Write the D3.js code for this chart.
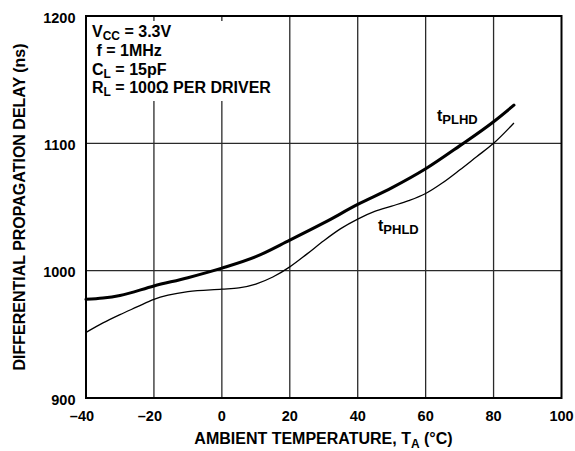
<!DOCTYPE html>
<html>
<head>
<meta charset="utf-8">
<script src="https://cdn.jsdelivr.net/npm/d3@7"></script>
<style>
  html, body { margin: 0; padding: 0; background: #fff; }
  text { font-family: "Liberation Sans", Arial, Helvetica, sans-serif; font-weight: bold; fill: #000; }
</style>
</head>
<body>
<svg id="chart" width="575" height="451"></svg>
<script>
// ---- data ----
const xTicks = [-40, -20, 0, 20, 40, 60, 80, 100];
const yTicks = [900, 1000, 1100, 1200];
const tempPLHD = [-40, -35, -30, -20, -10, 0, 10, 20, 30, 40, 50, 60, 70, 80, 86];
const valPLHD  = [977.5, 978.5, 980.5, 988, 994.5, 1002, 1011, 1024, 1037.5, 1052, 1065, 1080, 1098, 1117, 1130];
const tempPHLD = [-40, -35, -30, -25, -20, -10, 0, 5, 10, 15, 20, 25, 30, 35, 40, 45, 50, 55, 60, 65, 70, 75, 80, 86];
const valPHLD  = [951.5, 959, 965.5, 971.5, 977.5, 983.5, 985.5, 986.5, 989.5, 995, 1003, 1013, 1023.5, 1033, 1040.5, 1046.5, 1050.7, 1055, 1060.6, 1069, 1079, 1089.5, 1100, 1116];
const conditions = [
  ["V", "CC", " = 3.3V"],
  [" f = 1MHz", "", ""],
  ["C", "L", " = 15pF"],
  ["R", "L", " = 100Ω PER DRIVER"]
];

const svg = d3.select("#chart");
const x = d3.scaleLinear().domain([-40, 100]).range([86, 561.5]);
const y = d3.scaleLinear().domain([900, 1200]).range([398, 16]);

// grid lines
const grid = svg.append("g");
grid.selectAll("line.v").data(xTicks.slice(1, -1)).join("line")
  .attr("x1", d => x(d)).attr("x2", d => x(d))
  .attr("y1", y(900)).attr("y2", y(1200))
  .attr("stroke", "#2a2a2a").attr("stroke-width", 1.3);
grid.selectAll("line.h").data(yTicks.slice(1, -1)).join("line")
  .attr("x1", x(-40)).attr("x2", x(100))
  .attr("y1", d => y(d)).attr("y2", d => y(d))
  .attr("stroke", "#2a2a2a").attr("stroke-width", 1.3);

// white box behind condition text (with small top ticks)
svg.append("rect").attr("x", x(-40) + 1).attr("y", y(1200) + 5)
  .attr("width", 189).attr("height", 80).attr("fill", "#fff");

// curves
const line = d3.line().x(d => x(d[0])).y(d => y(d[1])).curve(d3.curveMonotoneX);
svg.append("path").datum(tempPHLD.map((t, i) => [t, valPHLD[i]]))
  .attr("d", line).attr("fill", "none").attr("stroke", "#000").attr("stroke-width", 1.3);
svg.append("path").datum(tempPLHD.map((t, i) => [t, valPLHD[i]]))
  .attr("d", line).attr("fill", "none").attr("stroke", "#000").attr("stroke-width", 3.1)
  .attr("stroke-linecap", "round");

// frame
svg.append("rect").attr("x", x(-40)).attr("y", y(1200))
  .attr("width", x(100) - x(-40)).attr("height", y(900) - y(1200))
  .attr("fill", "none").attr("stroke", "#000").attr("stroke-width", 2);

// y tick labels
svg.append("g").selectAll("text").data(yTicks).join("text")
  .attr("x", 75.5).attr("y", d => y(d) + 6.5)
  .attr("text-anchor", "end").attr("font-size", 14.5).text(d => d);

// x tick labels (digits centred on tick, minus sign hanging left)
const xl = svg.append("g");
xTicks.forEach(d => {
  const t = xl.append("text").attr("x", x(d)).attr("y", 421)
    .attr("text-anchor", "middle").attr("font-size", 14.5).text(Math.abs(d));
  if (d < 0) {
    const w = t.node().getComputedTextLength();
    xl.append("text").attr("x", x(d) - w / 2).attr("y", 421)
      .attr("text-anchor", "end").attr("font-size", 14.5).text("–");
  }
});

// axis titles
const xt = svg.append("text").attr("x", 323.5).attr("y", 444)
  .attr("text-anchor", "middle").attr("font-size", 16);
xt.append("tspan").text("AMBIENT TEMPERATURE, T");
xt.append("tspan").attr("font-size", 12).attr("dy", 4).text("A");
xt.append("tspan").attr("dy", -4).text(" (°C)");

svg.append("text").attr("transform", "translate(25,207) rotate(-90)")
  .attr("text-anchor", "middle").attr("font-size", 16)
  .text("DIFFERENTIAL PROPAGATION DELAY (ns)");

// condition text
const baselines = [37, 56, 75, 93];
conditions.forEach((c, i) => {
  const t = svg.append("text").attr("x", 92).attr("y", baselines[i])
    .attr("font-size", 16).attr("xml:space", "preserve").style("white-space", "pre");
  t.append("tspan").text(c[0]);
  if (c[1]) {
    t.append("tspan").attr("font-size", 12).attr("dy", 3).text(c[1]);
    t.append("tspan").attr("dy", -3).text(c[2]);
  }
});

// series labels
function seriesLabel(px, py, sub) {
  const t = svg.append("text").attr("x", px).attr("y", py).attr("font-size", 16);
  t.append("tspan").text("t");
  t.append("tspan").attr("font-size", 13).attr("dy", 3.5).text(sub);
}
seriesLabel(437, 120.5, "PLHD");
seriesLabel(378, 230.5, "PHLD");
</script>
</body>
</html>
